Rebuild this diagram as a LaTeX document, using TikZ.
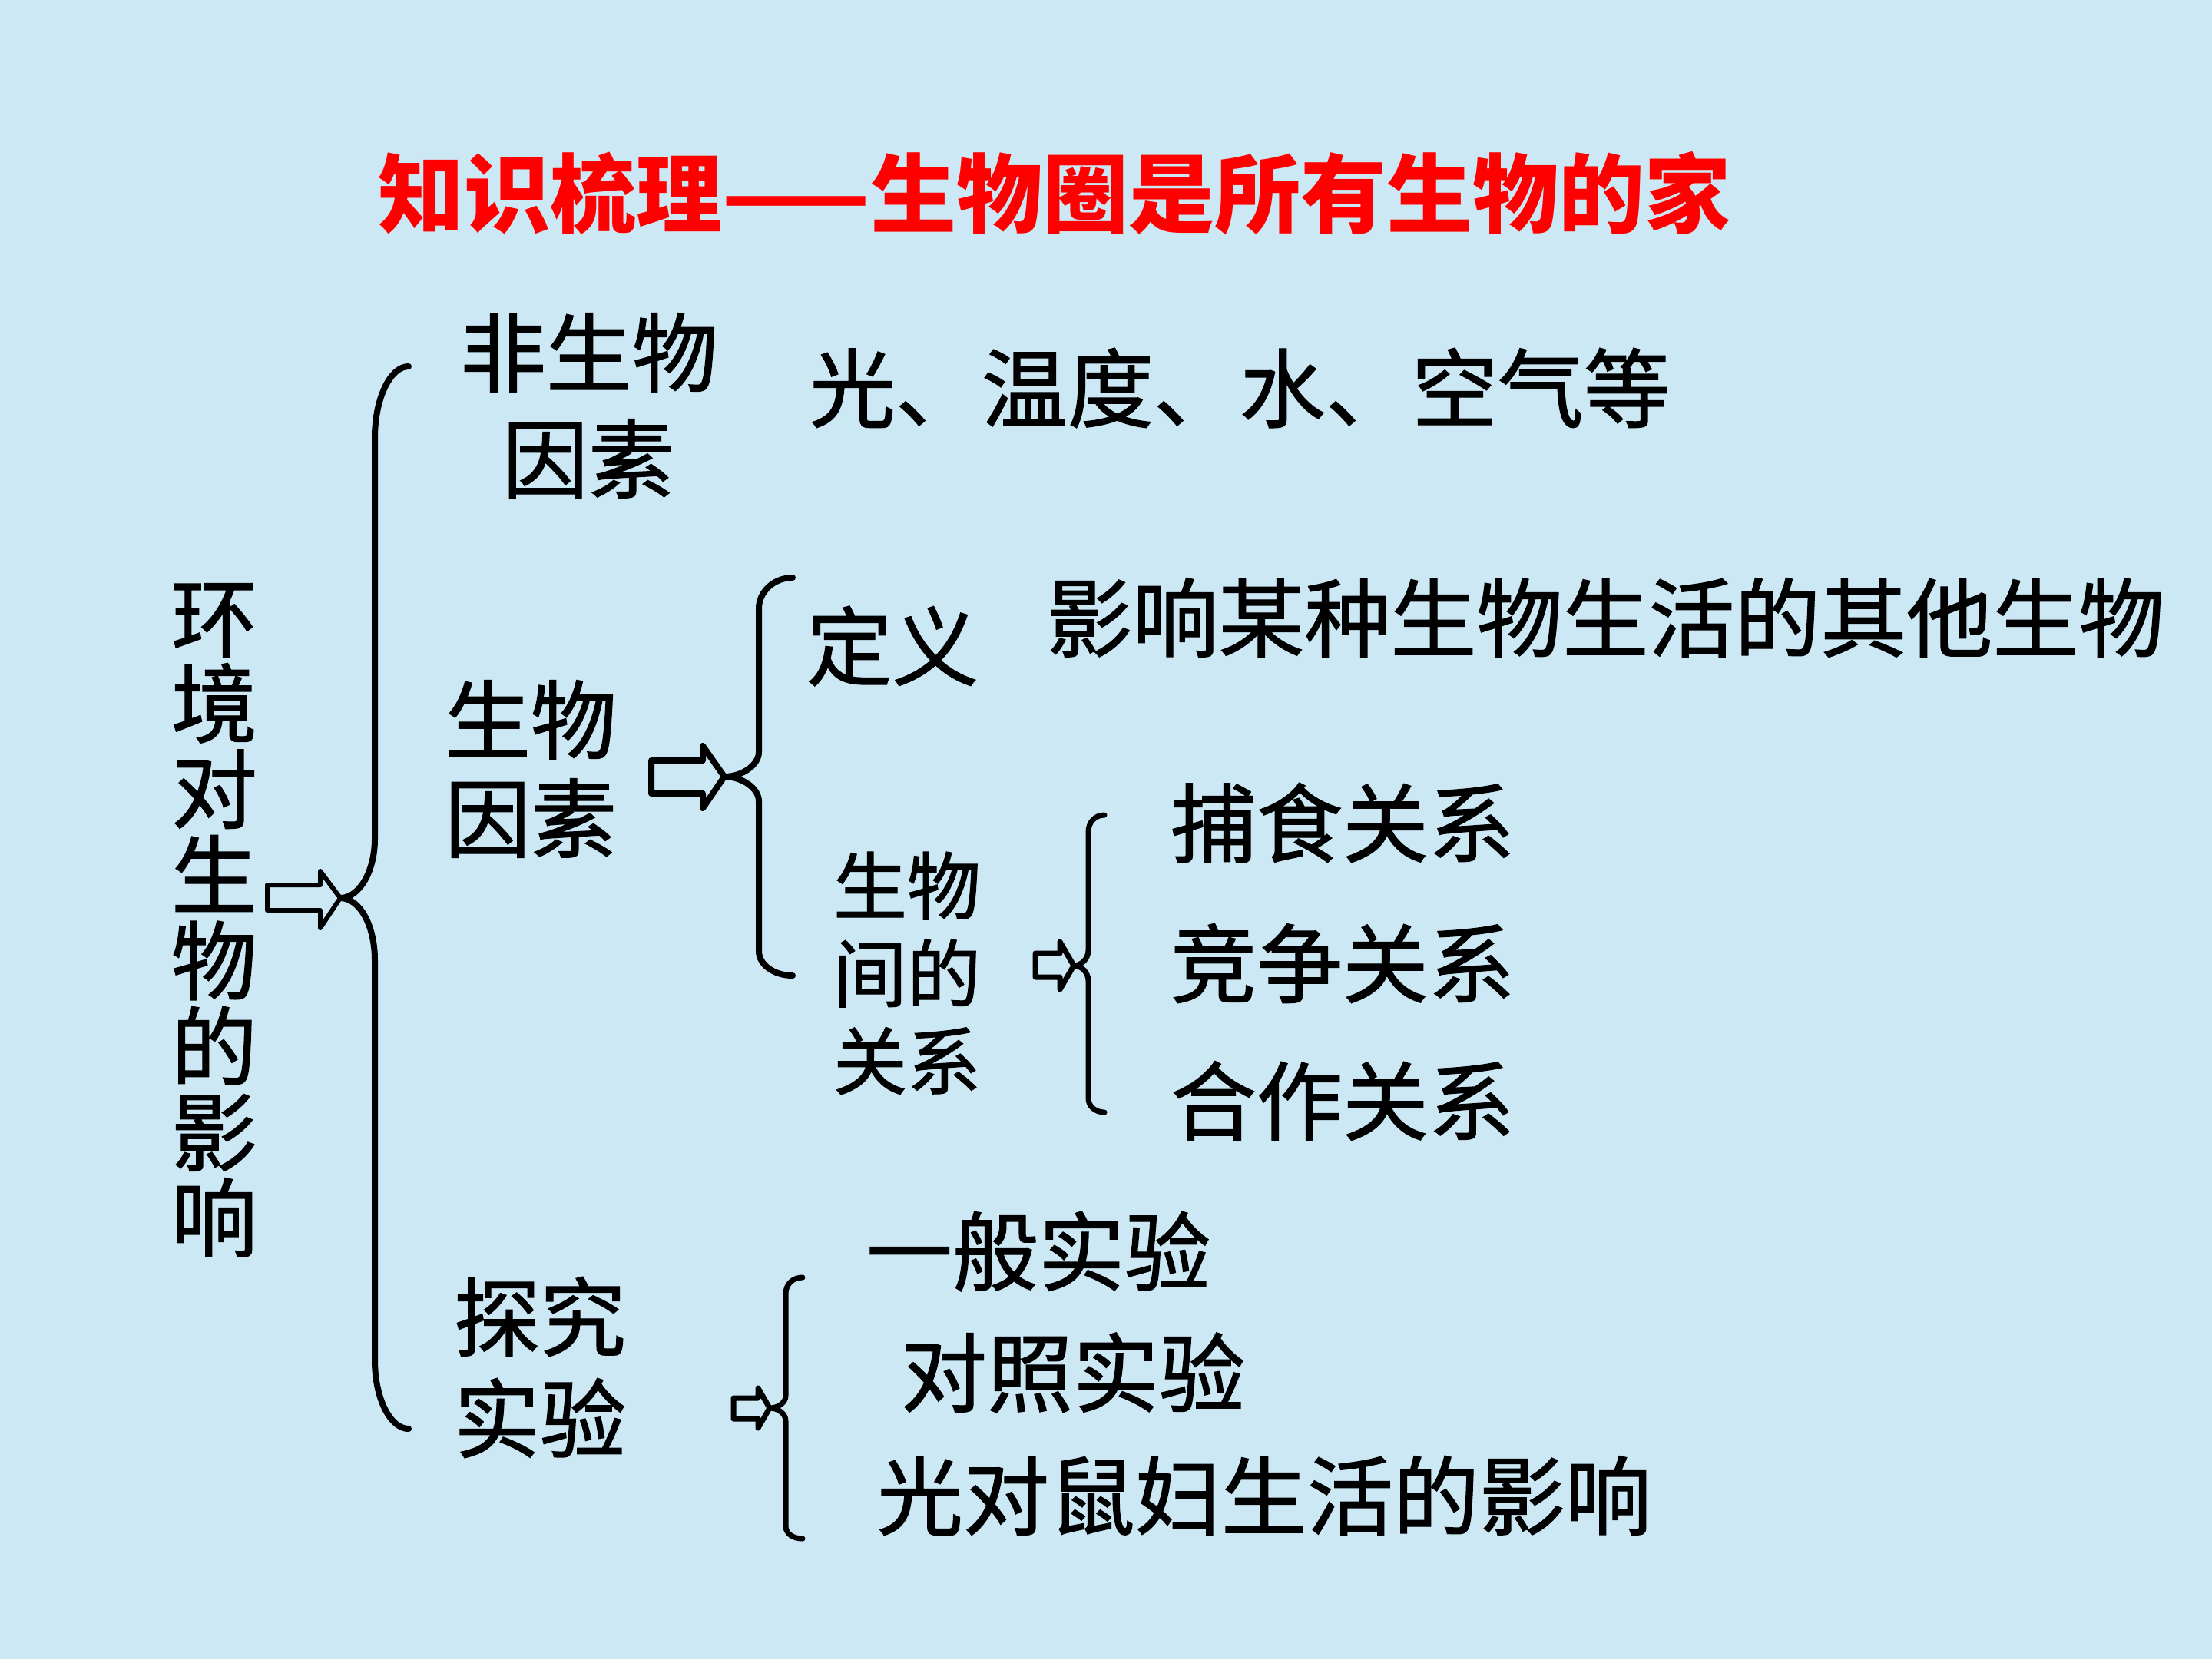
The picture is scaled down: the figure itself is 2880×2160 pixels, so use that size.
\documentclass[tikz,border=0pt]{standalone}
\usepackage{fontspec}
\newfontfamily\cjk{Noto Sans CJK SC}[FakeBold=1.2]
\newfontfamily\cjktitle{Noto Sans CJK SC}
\definecolor{bg}{RGB}{204,232,244}
\definecolor{titlered}{RGB}{255,0,0}
\begin{document}
\begin{tikzpicture}[x=0.5pt,y=-0.5pt,
  txt/.style={inner sep=0pt, font=\cjk\fontsize{56}{56}\selectfont},
  bigtxt/.style={inner sep=0pt, font=\cjk\fontsize{56}{56}\selectfont},
  smalltxt/.style={inner sep=0pt, align=center, font=\cjk\fontsize{48}{57}\selectfont},
  vtxt/.style={inner sep=0pt, align=center, font=\cjk\fontsize{56}{55.8}\selectfont},
  titletxt/.style={inner sep=0pt, text=titlered, font=\cjktitle\bfseries\fontsize{56}{56}\selectfont},
  bracestyle/.style={draw=black, line width=4pt, line cap=round, line join=round},
  blockarrow/.style={draw=black, line width=3pt, line join=round, fill=bg}
]
\useasboundingbox (0,0) rectangle (2880,2160);
\fill[bg] (0,0) rectangle (2880,2160);

% title
\node[titletxt] (title) at (1373,252) {知识梳理——生物圈是所有生物的家};

% root
\node[vtxt] (root) at (279,1198) {环\\境\\对\\生\\物\\的\\影\\响};

% level 1
\node[txt] (fsw1) at (767,459) {非生物};
\node[txt] (fsw2) at (766,597) {因素};
\node[txt] (fswd) at (1614,505) {光、温度、水、空气等};

\node[txt] (sw1) at (691,937) {生物};
\node[txt] (sw2) at (691,1065) {因素};

\node[txt] (tj1) at (703,1714) {探究};
\node[txt] (tj2) at (703,1846) {实验};

% level 2 biological
\node[txt] (dy) at (1162,841) {定义};
\node[bigtxt, anchor=west] (dyd) at (1362,804) {影响某种生物生活的其他生物};
\node[smalltxt] (gx) at (1181,1267) {生物\\间的\\关系};

\node[txt] (bs) at (1748,1071) {捕食关系};
\node[txt] (jz) at (1748,1254) {竞争关系};
\node[txt] (hz) at (1748,1433) {合作关系};

% experiments
\node[txt] (yb) at (1352,1629) {一般实验};
\node[txt] (dz) at (1397,1787) {对照实验};
\node[txt] (sf) at (1646,1947) {光对鼠妇生活的影响};

% brace 1
\coordinate (t1) at (443,1169);
\draw[bracestyle] (532,477) .. controls (508,477) and (488,519) .. (488,570)
  -- (488,1092) .. controls (488,1134) and (468,1169) .. (t1)
  .. controls (468,1169) and (488,1204) .. (488,1250)
  -- (488,1771) .. controls (488,1820) and (508,1860) .. (532,1860);
\draw[blockarrow, line width=3pt] (348,1152) -- (417,1152) -- (417,1134) -- (t1)
  -- (417,1208) -- (417,1185) -- (348,1185) -- cycle;

% brace 2
\coordinate (t2) at (943,1011);
\draw[bracestyle] (1032,752) .. controls (1008,752) and (988,770) .. (988,792)
  -- (988,979) .. controls (988,996) and (966,1011) .. (t2)
  .. controls (966,1011) and (988,1026) .. (988,1043)
  -- (988,1238) .. controls (988,1256) and (1008,1270) .. (1032,1270);
\draw[blockarrow, line width=4pt] (848,990) -- (915,990) -- (915,971) -- (t2)
  -- (915,1052) -- (915,1033) -- (848,1033) -- cycle;

% brace 3
\coordinate (t3) at (1398,1257);
\draw[bracestyle, line width=3.5pt] (1438,1061) .. controls (1426,1061) and (1417,1070) .. (1417,1083)
  -- (1417,1237) .. controls (1417,1248) and (1408,1257) .. (t3)
  .. controls (1408,1257) and (1417,1266) .. (1417,1277)
  -- (1417,1430) .. controls (1417,1440) and (1426,1448) .. (1438,1448);
\draw[blockarrow, line width=3.5pt] (1348,1241) -- (1380,1241) -- (1380,1226) -- (t3)
  -- (1380,1288) -- (1380,1272) -- (1348,1272) -- cycle;

% brace 4
\coordinate (t4) at (1002,1833);
\draw[bracestyle, line width=3.5pt] (1045,1663) .. controls (1032,1663) and (1023,1672) .. (1023,1684)
  -- (1023,1817) .. controls (1023,1826) and (1013,1833) .. (t4)
  .. controls (1013,1833) and (1023,1840) .. (1023,1850)
  -- (1023,1987) .. controls (1023,1996) and (1032,2003) .. (1045,2003);
\draw[blockarrow, line width=3.5pt] (955,1820) -- (987,1820) -- (987,1807) -- (t4)
  -- (987,1859) -- (987,1847) -- (955,1847) -- cycle;
\end{tikzpicture}
\end{document}
